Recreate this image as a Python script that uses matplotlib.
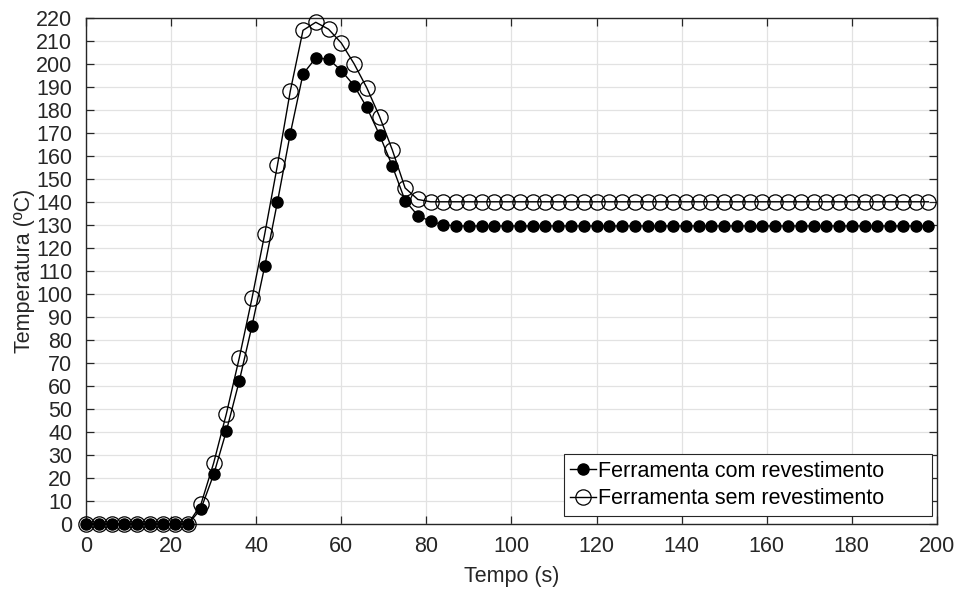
import matplotlib
matplotlib.use("Agg")
import matplotlib.pyplot as plt

plt.rcParams['font.family'] = ['Liberation Sans', 'DejaVu Sans']

# Time samples (s)
tempo = [0, 3, 6, 9, 12, 15, 18, 21, 24, 27, 30, 33, 36, 39, 42, 45, 48, 51, 54, 57,
         60, 63, 66, 69, 72, 75, 78, 81, 84, 87, 90, 93, 96, 99, 102, 105, 108, 111,
         114, 117, 120, 123, 126, 129, 132, 135, 138, 141, 144, 147, 150, 153, 156,
         159, 162, 165, 168, 171, 174, 177, 180, 183, 186, 189, 192, 195, 198]

# Temperature of the coated tool (ºC)
com_revestimento = [0, 0, 0, 0, 0, 0, 0, 0, 0, 6.5, 21.5, 40.5, 62, 86, 112, 140, 169.5,
                    195.5, 202.5, 202, 197, 190.5, 181, 169, 155.5, 140.5, 134, 131.5,
                    130, 129.5, 129.5, 129.5, 129.5, 129.5, 129.5, 129.5, 129.5, 129.5,
                    129.5, 129.5, 129.5, 129.5, 129.5, 129.5, 129.5, 129.5, 129.5, 129.5,
                    129.5, 129.5, 129.5, 129.5, 129.5, 129.5, 129.5, 129.5, 129.5, 129.5,
                    129.5, 129.5, 129.5, 129.5, 129.5, 129.5, 129.5, 129.5, 129.5]

# Temperature of the uncoated tool (ºC)
sem_revestimento = [0, 0, 0, 0, 0, 0, 0, 0, 0, 8.5, 26.5, 48, 72, 98, 126, 156, 188,
                    214.5, 218, 215, 209, 200, 189.5, 177, 162.5, 146, 141, 140, 140,
                    140, 140, 140, 140, 140, 140, 140, 140, 140, 140, 140, 140, 140,
                    140, 140, 140, 140, 140, 140, 140, 140, 140, 140, 140, 140, 140,
                    140, 140, 140, 140, 140, 140, 140, 140, 140, 140, 140, 140]

x_ticks = list(range(0, 201, 20))
y_ticks = list(range(0, 221, 10))

text_color = '#262626'
fs = 15.5

fig = plt.figure(figsize=(9.56, 5.89), dpi=100)
ax = fig.add_axes([0.090, 0.1104, 0.890, 0.8596])

ax.plot(tempo, com_revestimento, color='black', linewidth=1.0, marker='o',
        markersize=8.0, markerfacecolor='black', markeredgecolor='black',
        label='Ferramenta com revestimento', zorder=3, clip_on=False)
ax.plot(tempo, sem_revestimento, color='black', linewidth=1.0, marker='o',
        markersize=11.0, markerfacecolor='none', markeredgecolor='black',
        markeredgewidth=0.9, label='Ferramenta sem revestimento', zorder=4,
        clip_on=False)

ax.set_xlim(0, 200)
ax.set_ylim(0, 220)
ax.set_xticks(x_ticks)
ax.set_yticks(y_ticks)
ax.tick_params(direction='in', length=6, width=0.9, colors=text_color,
               labelsize=fs, top=True, right=True)
ax.tick_params(axis='y', pad=10)
ax.tick_params(axis='x', pad=9)
ax.grid(True, color='#e2e2e2', linewidth=0.9)
ax.set_axisbelow(True)
for s in ax.spines.values():
    s.set_color(text_color)
    s.set_linewidth(1.0)

ax.set_xlabel('Tempo (s)', fontsize=fs, color=text_color, labelpad=6)
ax.set_ylabel('Temperatura (ºC)', fontsize=fs, color=text_color, labelpad=1)

# Legend box spans a fixed width in the lower right, entries left-aligned
leg = ax.legend(loc='lower left', bbox_to_anchor=(0.5617, 0.0164, 0.4324, 0.12),
                mode='expand', fontsize=fs, frameon=True, fancybox=False,
                edgecolor=text_color, framealpha=1.0, handlelength=1.2,
                handletextpad=0.1, borderpad=0.3, labelspacing=0.3,
                borderaxespad=0.0)
leg.get_frame().set_linewidth(0.8)
for t in leg.get_texts():
    t.set_color('black')

fig.savefig('out.png', dpi=100)
